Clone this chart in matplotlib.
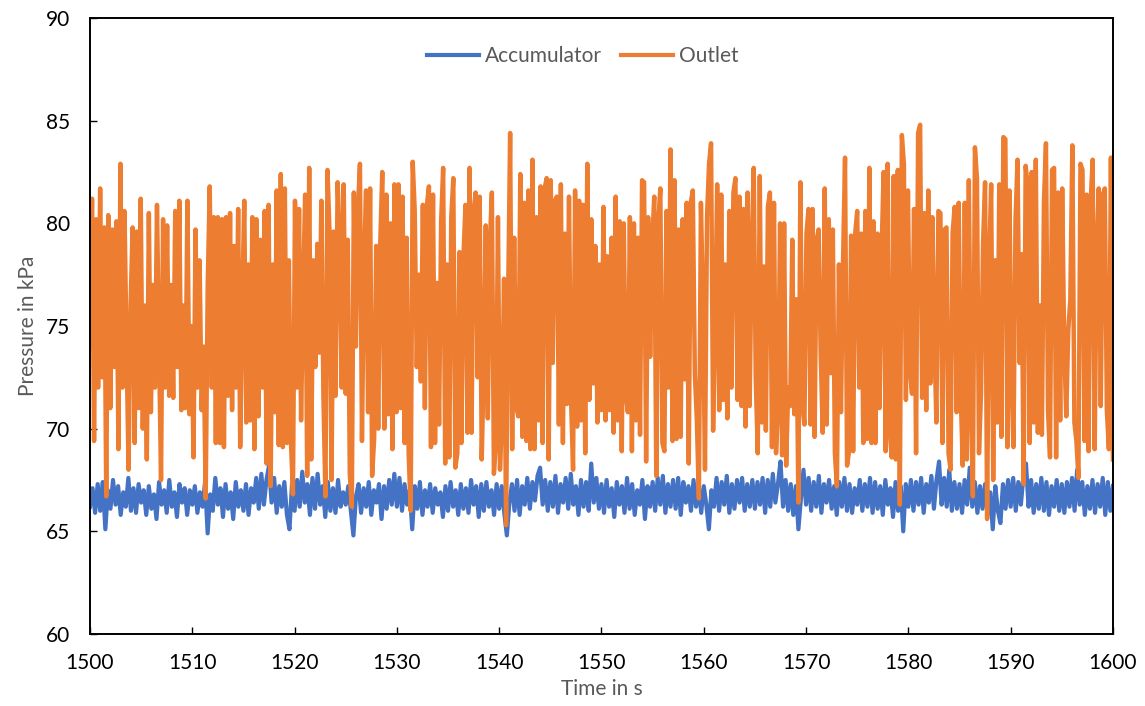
import numpy as np
from matplotlib import pyplot as plt

# pressure readings (kPa)
outlet = [
    74.0, 81.2, 69.4, 80.2, 72.0, 81.7, 72.5, 79.8, 66.7, 80.4, 71.0, 79.7, 73.0, 80.1, 69.0, 82.9,
    72.0, 80.6, 74.0, 68.0, 76.0, 79.8, 69.3, 79.6, 71.0, 81.2, 70.0, 76.0, 68.5, 80.5, 70.8, 77.0,
    72.0, 80.9, 74.0, 67.5, 80.2, 72.0, 79.9, 71.6, 77.0, 71.5, 80.6, 73.0, 81.1, 70.9, 76.0, 71.0,
    81.1, 70.7, 75.0, 68.6, 79.7, 72.0, 78.2, 70.9, 74.0, 66.6, 77.0, 81.8, 72.0, 80.3, 69.3,
    80.3, 69.3, 80.2, 69.1, 80.3, 71.6, 80.5, 70.9, 78.9, 72.0, 80.7, 69.1, 76.0, 81.1, 70.3, 78.0,
    70.4, 80.3, 69.0, 80.2, 70.6, 79.2, 72.0, 80.6, 68.3, 80.9, 67.2, 78.0, 70.8, 81.6, 69.2, 82.4,
    69.1, 81.7, 69.3, 78.2, 69.4, 66.8, 81.1, 72.0, 80.7, 70.4, 76.6, 81.4, 67.7, 82.7, 68.5, 78.2,
    73.0, 79.0, 73.7, 81.1, 71.6, 66.7, 82.6, 79.6, 67.5, 79.6, 71.6, 82.0, 79.2, 72.0,
    81.9, 71.7, 79.2, 67.8, 66.2, 81.5, 74.0, 80.7, 82.9, 69.4, 77.9, 81.6, 70.8, 81.7, 67.7, 69.5,
    78.9, 70.0, 79.0, 82.5, 70.0, 81.4, 70.7, 80.0, 69.0, 81.9, 70.8, 81.9, 71.0, 81.3, 69.3, 79.3,
    68.8, 66.0, 83.0, 80.6, 73.0, 77.5, 72.3, 80.9, 71.0, 80.9, 81.8, 69.1, 81.4, 69.3, 77.1, 70.2,
    80.1, 82.7, 68.3, 78.0, 68.6, 80.3, 82.2, 68.1, 68.8, 78.6, 69.3, 78.4, 80.9, 69.8, 82.7, 69.8,
    80.6, 81.5, 72.5, 81.3, 68.5, 73.0, 79.9, 70.5, 79.0, 81.5, 67.8, 69.3, 80.3, 68.0, 70.7, 77.3,
    65.3, 76.3, 84.4, 69.0, 79.3, 71.1, 70.6, 82.4, 69.6, 81.0, 69.4, 81.6, 69.0, 83.1, 69.0, 80.3,
    70.4, 81.8, 69.3, 81.7, 82.2, 68.5, 82.1, 73.2, 81.1, 81.3, 70.2, 81.9, 69.3, 79.5, 71.2, 81.3,
    71.5, 68.0, 81.6, 70.1, 81.1, 70.4, 80.9, 68.8, 82.9, 71.4, 80.2, 72.2, 78.9, 70.3,
    78.0, 70.9, 80.8, 70.4, 78.4, 70.9, 79.3, 69.8, 81.3, 70.4, 80.1, 68.9, 80.0, 71.6, 70.8, 80.3,
    68.9, 80.0, 70.4, 79.3, 69.7, 82.1, 82.0, 68.4, 80.3, 73.5, 79.0, 81.3, 67.7, 80.1, 81.7, 69.3,
    68.9, 80.6, 72.0, 83.6, 69.4, 82.1, 69.5, 79.7, 69.6, 80.2, 72.4, 81.0, 68.3, 81.0, 81.6, 72.7,
    70.4, 66.6, 81.0, 76.1, 68.0, 80.3, 82.9, 83.9, 69.9, 75.0, 81.9, 70.9, 81.4, 71.4, 78.0, 70.5,
    80.6, 72.0, 81.5,
    82.2, 71.4, 81.3, 71.1, 80.7, 70.1, 81.5, 71.1, 78.7, 82.7, 72.5, 68.8, 82.3, 70.3, 77.9, 69.9,
    80.8, 81.5, 69.1, 81.0, 68.8, 71.0, 80.0, 68.7, 80.0, 68.2, 72.0, 71.1, 79.2, 70.7, 76.3, 66.4,
    82.0, 71.2, 70.2, 79.5, 80.7, 70.2, 80.7, 69.6, 79.2, 79.7, 73.7, 69.8, 81.7, 70.2, 80.2, 72.7,
    79.7, 68.8, 67.2, 78.0, 70.8, 78.0, 83.2, 68.2, 68.9, 79.4, 68.9, 79.5, 80.6, 72.0,
    79.5, 69.3, 80.6, 69.5, 82.7, 69.3, 80.1, 69.3, 79.5, 71.0, 78.5, 82.5, 68.9, 82.9, 69.9, 68.6,
    82.3, 68.5, 82.6, 66.3, 84.3, 82.9, 71.4, 81.6, 72.8, 71.7, 80.7, 68.8, 84.4, 84.8, 71.5, 80.5,
    70.9, 81.6, 72.2, 80.3, 74.5, 70.3, 80.6, 80.5, 69.3, 79.7, 79.8, 68.8, 68.0, 79.5, 80.8, 70.8,
    81.0, 71.7, 68.2, 81.0, 68.5, 82.1, 71.5, 66.7, 83.7, 82.2, 68.8, 71.7, 79.0, 82.0, 65.6, 78.0,
    81.9,
    67.5, 78.2, 70.3, 81.9, 69.6, 84.2, 84.1, 69.1, 81.6, 72.4, 69.1, 80.2, 83.1, 73.2, 78.5, 67.3,
    82.8, 81.8, 69.3, 82.5, 70.3, 83.1, 69.8, 76.0, 69.7, 81.0, 83.9, 70.9, 68.6, 82.6, 82.7, 68.6,
    81.5, 70.4, 81.7, 74.0, 70.6, 74.8, 76.3, 83.8, 70.3, 69.4, 67.6, 82.9, 82.6, 69.4, 81.4, 68.9,
    81.0, 83.1, 69.0, 78.7, 81.7, 71.1, 81.4, 81.7, 70.9, 69.0, 83.2, 68.5,
]

accumulator = [
    66.2, 67.1, 65.9, 67.3, 66.0, 67.4, 65.1, 67.0, 66.1, 67.5, 66.3, 67.2, 65.8, 66.9, 66.2, 67.6, 66.0, 67.1, 65.9, 67.3,
    66.4, 67.0, 65.8, 67.2, 66.1, 66.8, 65.6, 67.4, 66.3, 67.0, 65.9, 67.5, 66.2, 66.9, 65.7, 67.3, 66.4, 67.1, 65.8, 67.0,
    66.3, 67.2, 65.9, 66.9, 66.2, 67.4, 64.9, 66.8, 66.0, 67.6, 66.3, 67.1, 65.7, 67.3, 66.1, 66.9, 65.6, 67.4, 66.2, 67.0,
    66.0, 67.3, 65.8, 67.1, 66.4, 67.6, 66.1, 67.8, 66.3, 67.5, 68.2, 66.4, 67.6, 65.9, 67.2, 66.2, 67.4, 65.8, 65.1, 67.3,
    66.0, 67.5, 66.2, 67.9, 66.4, 67.3, 65.8, 67.6, 66.1, 67.8, 66.3, 67.2, 65.7, 67.4, 66.0, 67.1, 65.9, 67.5, 66.2, 66.9,
    66.3, 67.2, 66.0, 64.8, 66.7, 67.3, 65.9, 67.1, 66.2, 67.4, 65.8, 67.0, 66.4, 67.3, 65.6, 67.2, 66.1, 67.5, 66.3, 67.8,
    66.2, 67.6, 66.0, 67.3, 66.3, 67.0, 65.1, 67.2, 66.1, 67.4, 65.8, 67.0, 66.2, 67.3, 65.9, 67.1, 66.3, 66.9, 65.7, 67.2,
    66.0, 67.4, 66.2, 67.0, 65.8, 67.3, 66.1, 67.1, 65.9, 67.5, 66.3, 67.2, 65.7, 67.3, 66.0, 67.4, 66.2, 67.0, 65.8, 67.3,
    66.1, 67.2, 65.9, 64.8, 66.4, 67.3, 66.0, 67.5, 65.8, 67.2, 66.3, 67.6, 66.1, 67.4, 66.5, 67.7, 68.1, 66.3, 67.5, 66.0,
    67.4, 66.2, 67.7, 65.9, 67.3, 66.4, 67.6, 66.1, 67.8, 66.3, 67.2, 65.8, 67.5, 66.2, 67.4, 66.0, 68.3, 66.4, 67.6, 66.1,
    67.3, 65.9, 67.5, 66.2, 67.1, 65.7, 67.4, 66.3, 67.2, 65.9, 67.6, 66.1, 67.3, 65.8, 67.0, 66.3, 67.5, 65.6, 67.2, 66.2,
    67.4, 66.0, 67.6, 66.3, 67.7, 65.9, 67.3, 66.2, 67.5, 66.1, 67.6, 65.8, 67.4, 66.4, 67.2, 66.0, 67.5, 66.2, 67.3, 65.9,
    67.2, 66.3, 65.1, 67.0, 66.2, 67.6, 66.0, 67.4, 66.3, 67.7, 65.9, 67.3, 66.1, 67.5, 66.4, 67.6, 66.0, 67.3, 66.2, 67.5,
    66.1, 67.4, 66.3, 67.6, 65.9, 67.5, 66.2, 67.8, 66.4, 67.3, 68.4, 66.2, 67.5, 66.0, 67.3, 65.8, 67.2, 65.1, 66.6, 68.0,
    66.3, 67.6, 66.0, 67.4, 66.2, 67.7, 65.9, 67.3, 66.4, 67.5, 66.1, 67.2, 65.8, 67.4, 66.2, 67.6, 66.0, 67.3, 65.9, 67.1,
    66.3, 67.5, 66.0, 67.3, 66.2, 67.6, 65.9, 67.4, 66.1, 67.2, 65.8, 67.5, 66.3, 67.1, 65.7, 67.4, 66.0, 67.2, 65.0, 67.3,
    66.2, 67.5, 66.0, 67.4, 66.3, 67.6, 65.9, 67.3, 66.4, 67.7, 66.1, 67.5, 68.4, 66.3, 67.6, 66.2, 68.0, 66.0, 67.4, 66.1,
    67.3, 65.9, 67.5, 66.3, 68.1, 66.2, 67.4, 65.9, 67.2, 66.1, 67.3, 65.8, 66.9, 65.1, 67.2, 66.0, 65.4, 67.3, 66.1, 67.5,
    66.2, 67.6, 66.0, 67.4, 66.3, 67.7, 68.3, 66.2, 67.5, 65.9, 67.3, 66.1, 67.6, 66.0, 67.4, 65.8, 67.2, 66.2, 67.5, 66.0,
    67.3, 65.9, 67.4, 66.2, 67.6, 66.0, 68.0, 66.3, 67.4, 65.8, 67.2, 66.1, 67.5, 65.9, 67.3, 66.2, 67.6, 65.8, 67.4, 66.0,
    67.2,
]

# sample times, evenly spaced over the shown window
t_outlet = np.linspace(1500, 1600, len(outlet))
t_acc = np.linspace(1500, 1600, len(accumulator))

plt.rcParams['font.family'] = ['Lato', 'DejaVu Sans']

fig = plt.figure(figsize=(11.45, 7.06), dpi=100)
ax = fig.add_axes([0.0786, 0.102, 0.8934, 0.8725])

ax.plot(t_acc, accumulator, c='#4472C4', lw=3.0, label='Accumulator')
ax.plot(t_outlet, outlet, c='#ED7D31', lw=3.2, label='Outlet')

ax.set_xlim(1500, 1600)
ax.set_ylim(60, 90)
ax.set_xticks(np.arange(1500, 1601, 10))
ax.set_yticks(np.arange(60, 91, 5))
ax.tick_params(axis='both', direction='in', length=5, width=1, labelsize=15, colors='black')
ax.tick_params(axis='x', pad=14)
ax.tick_params(axis='y', pad=14)
for s in ax.spines.values():
    s.set_linewidth(1.4)
    s.set_color('black')

ax.set_xlabel('Time in s', fontsize=15, color='#595959', labelpad=4)
ax.set_ylabel('Pressure in kPa', fontsize=15, color='#595959', labelpad=6)

leg = ax.legend(loc='upper center', bbox_to_anchor=(0.482, 0.985), ncol=2, frameon=False,
                fontsize=15, handlelength=2.5, handletextpad=0.3, columnspacing=0.9,
                labelcolor='#595959')
for line in leg.get_lines():
    line.set_linewidth(3.0)

fig.savefig('out.png', dpi=100)
